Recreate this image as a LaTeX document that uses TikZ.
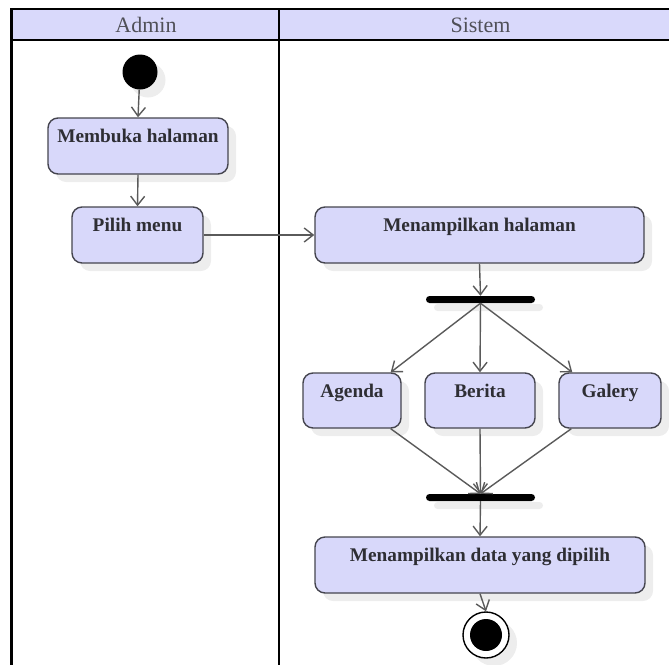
\documentclass[tikz,border=0pt]{standalone}
\usepackage{fontspec}
\setmainfont{Liberation Serif}
\usetikzlibrary{arrows.meta,shadows}
\definecolor{lanefill}{HTML}{D9D9FB}
\definecolor{actfill}{HTML}{D8D8FA}
\definecolor{actline}{HTML}{45454F}
\definecolor{flow}{HTML}{5A5A5A}
\definecolor{shade}{HTML}{EDEDED}
\definecolor{inktext}{HTML}{2E2E34}
\definecolor{headtext}{HTML}{505058}
\begin{document}
\begin{tikzpicture}[x=1pt,y=-1pt,
  lanes/.style={line width=2.6pt, draw=black},
  shadowed/.style={drop shadow={shadow xshift=8pt, shadow yshift=-8pt, fill=shade, opacity=1}},
  act/.style={shadowed, draw=actline, line width=1.4pt, fill=actfill,
    rounded corners=10pt, inner sep=0pt},
  bar/.style={shadowed, fill=black, draw=none, rounded corners=3.5pt,
    minimum width=109pt, minimum height=7pt, inner sep=0pt},
  lbl/.style={anchor=base, inner sep=0pt, text=inktext,
    font=\bfseries\fontsize{19.3}{22}\selectfont},
  head/.style={anchor=base, inner sep=0pt, text=headtext,
    font=\fontsize{22}{26}\selectfont},
  flowline/.style={draw=flow, line width=1.4pt,
    -{Straight Barb[length=9pt, width=14pt, line width=1.4pt]}}
]
\useasboundingbox (0,0) rectangle (669,664);

% swimlane frame
\fill[lanefill] (11,9) rectangle (675,40);
\draw[lanes] (10,9) -- (675,9);
\draw[lanes] (10,40) -- (675,40);
\draw[lanes] (11.5,8) -- (11.5,670);
\draw[lanes] (279,8) -- (279,670);
\node[head] (hadmin) at (146,32) {Admin};
\node[head] (hsistem) at (480.5,32) {Sistem};

% start node
\node[shadowed, circle, fill=black, minimum size=35pt, inner sep=0pt] (start) at (140,72) {};

% admin lane
\node[act, minimum width=180pt, minimum height=56pt] (buka) at (138,146) {};
\node[lbl] (tbuka) at ([yshift=-25.5pt]buka.north) {Membuka halaman};
\node[act, minimum width=131pt, minimum height=56pt] (pilih) at (137.5,235) {};
\node[lbl] (tpilih) at ([yshift=-25pt]pilih.north) {Pilih menu};

% system lane
\node[act, minimum width=329pt, minimum height=56pt] (tampil) at (479.5,235) {};
\node[lbl] (ttampil) at ([yshift=-25pt]tampil.north) {Menampilkan halaman};
\node[bar] (fork) at (480.5,299.5) {};
\node[act, minimum width=98pt, minimum height=55pt] (agenda) at (352,400.5) {};
\node[lbl] (tagenda) at ([yshift=-25pt]agenda.north) {Agenda};
\node[act, minimum width=110pt, minimum height=55pt] (berita) at (480,400.5) {};
\node[lbl] (tberita) at ([yshift=-25pt]berita.north) {Berita};
\node[act, minimum width=102pt, minimum height=55pt] (galery) at (610,400.5) {};
\node[lbl] (tgalery) at ([yshift=-25pt]galery.north) {Galery};
\node[bar] (join) at (480.5,497.5) {};
\node[act, minimum width=330pt, minimum height=56pt] (data) at (480,565) {};
\node[lbl] (tdata) at ([yshift=-25.5pt]data.north) {Menampilkan data yang dipilih};

% final node
\node[shadowed, circle, draw=black, line width=1.4pt, fill=white, minimum size=46pt, inner sep=0pt] (final) at (486,635) {};
\node[circle, fill=black, minimum size=32pt, inner sep=0pt] (finaldot) at (final.center) {};

% control flow
\draw[flowline] (start) -- (buka.north);
\draw[flowline] (buka.south) -- (pilih.north);
\draw[flowline] (pilih.east) -- (tampil.west);
\draw[flowline] (tampil.south) -- (fork.north);
\draw[flowline] (fork.south) -- ([xshift=-11pt]agenda.north east);
\draw[flowline] (fork.south) -- (berita.north);
\draw[flowline] (fork.south) -- ([xshift=14pt]galery.north west);
\draw[flowline] ([xshift=-11pt]agenda.south east) -- (join.north);
\draw[flowline] (berita.south) -- (join.north);
\draw[flowline] ([xshift=13pt]galery.south west) -- (join.north);
\draw[flowline] (join.south) -- (data.north);
\draw[flowline] (data.south) -- (final.north);
\end{tikzpicture}
\end{document}
